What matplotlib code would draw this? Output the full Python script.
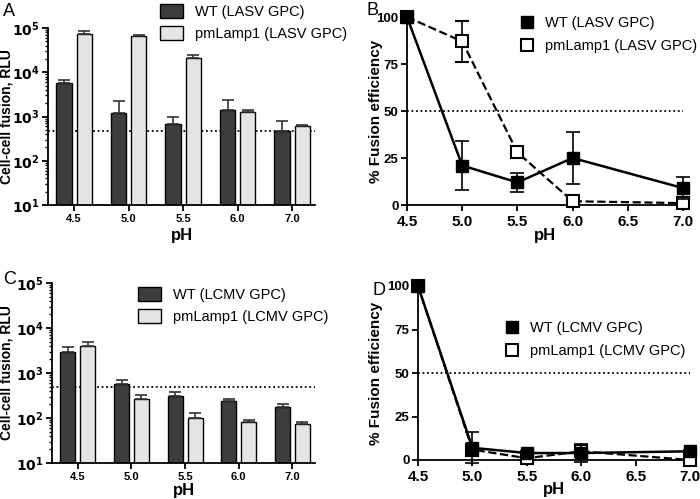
import matplotlib
matplotlib.use("Agg")
import matplotlib.pyplot as plt
import numpy as np
from matplotlib.ticker import LogLocator, NullFormatter
from matplotlib.lines import Line2D
from matplotlib.patches import Patch

plt.rcParams['font.family'] = ['Liberation Sans', 'DejaVu Sans']

ph_labels = ['4.5', '5.0', '5.5', '6.0', '7.0']
ph_num = [4.5, 5.0, 5.5, 6.0, 7.0]

# panel A: LASV GPC, RLU
lasv_wt = [5700, 1200, 670, 1400, 470]
lasv_wt_err = [900, 1000, 330, 1000, 310]
lasv_pm = [75000, 65000, 21000, 1250, 620]
lasv_pm_err = [9000, 5000, 4000, 150, 30]

# panel B: LASV % fusion efficiency
lasv_wt_pct = [100, 21, 12, 25, 9]
lasv_wt_pct_err = [0, 13, 5, 14, 6]
lasv_pm_pct = [100, 87, 28, 2, 1]
lasv_pm_pct_err = [0, 11, 3, 1, 1]

# panel C: LCMV GPC, RLU
lcmv_wt = [2950, 570, 310, 240, 175]
lcmv_wt_err = [850, 120, 70, 25, 30]
lcmv_pm = [4000, 265, 100, 82, 72]
lcmv_pm_err = [1000, 55, 30, 10, 10]

# panel D: LCMV % fusion efficiency
lcmv_wt_pct = [100, 7, 4, 4, 5]
lcmv_wt_pct_err = [0, 9, 1, 5, 1]
lcmv_pm_pct = [100, 6, 1, 5, 0]
lcmv_pm_pct_err = [0, 2, 1, 2, 0]

cutoff_rlu = 480

fig = plt.figure(figsize=(7.0, 4.99), dpi=100)


def style(ax):
    for s in ['top', 'right']:
        ax.spines[s].set_visible(False)
    for s in ['left', 'bottom']:
        ax.spines[s].set_linewidth(1.3)
    ax.tick_params(width=1.3, length=4)


def bar_panel(rect, wt, wt_err, pm, pm_err, names, leg_pos, letter, letter_pos, ylab_x, xpad):
    ax = fig.add_axes(rect)
    x = np.arange(len(ph_labels))
    ekw = dict(capsize=4, elinewidth=1.2, capthick=1.2, ecolor='#333333')
    ax.bar(x - 0.185, wt, width=0.28, color='#3d3d3d', edgecolor='black', linewidth=1.0,
           yerr=[[0] * len(wt), wt_err], error_kw=ekw)
    ax.bar(x + 0.185, pm, width=0.28, color='#e4e4e4', edgecolor='black', linewidth=1.0,
           yerr=[[0] * len(pm), pm_err], error_kw=ekw)
    ax.axhline(cutoff_rlu, color='black', linestyle=(0, (1, 1.5)), linewidth=1.3, zorder=0)
    ax.set_yscale('log')
    ax.set_ylim(10, 1e5)
    ax.set_xlim(-0.48, 4.42)
    ax.set_xticks(x)
    ax.set_xticklabels(ph_labels, fontsize=8, fontweight='bold')
    ax.set_yticks([1e1, 1e2, 1e3, 1e4, 1e5])
    ax.set_yticklabels([r'$\mathbf{10^{%d}}$' % i for i in range(1, 6)], fontsize=10)
    ax.yaxis.set_minor_locator(LogLocator(base=10, subs=np.arange(2, 10)))
    ax.yaxis.set_minor_formatter(NullFormatter())
    style(ax)
    ax.tick_params(axis='y', which='major', pad=2)
    ax.tick_params(axis='y', which='minor', length=2.5, width=1.0)
    ax.tick_params(axis='x', pad=2.5)
    ax.set_ylabel('Cell-cell fusion, RLU', fontsize=10, fontweight='bold')
    ax.yaxis.set_label_coords(ylab_x, 0.5)
    ax.set_xlabel('pH', fontsize=12, fontweight='bold', labelpad=xpad)
    hs = [Patch(facecolor='#3d3d3d', edgecolor='black', linewidth=1.0),
          Patch(facecolor='#e4e4e4', edgecolor='black', linewidth=1.0)]
    fig.legend(hs, names, loc='upper left', bbox_to_anchor=leg_pos, frameon=False, fontsize=10.5,
               handlelength=1.6, handleheight=1.1, labelspacing=0.5, handletextpad=0.8,
               borderaxespad=0, borderpad=0)
    fig.text(letter_pos[0], letter_pos[1], letter, fontsize=13)
    return ax


def line_panel(rect, wt, wt_err, pm, pm_err, names, leg_pos, letter, letter_pos, ylab_x, xpad):
    ax = fig.add_axes(rect)
    ax.axhline(50, color='black', linestyle=(0, (1, 1.5)), linewidth=1.3, zorder=0)
    ax.errorbar(ph_num, pm, yerr=pm_err, color='black', linestyle='--', linewidth=1.6,
                marker='s', markersize=8.5, markerfacecolor='white', markeredgecolor='black',
                markeredgewidth=1.5, capsize=5, elinewidth=1.2, capthick=1.2, clip_on=False,
                zorder=3)
    ax.errorbar(ph_num, wt, yerr=wt_err, color='black', linestyle='-', linewidth=1.8,
                marker='s', markersize=8.5, markerfacecolor='black', markeredgecolor='black',
                capsize=5, elinewidth=1.2, capthick=1.2, clip_on=False, zorder=4)
    ax.set_xlim(4.5, 7.0)
    ax.set_ylim(0, 100)
    ax.set_xticks([4.5, 5.0, 5.5, 6.0, 6.5, 7.0])
    ax.set_xticklabels(['4.5', '5.0', '5.5', '6.0', '6.5', '7.0'], fontsize=11, fontweight='bold')
    ax.set_yticks([0, 25, 50, 75, 100])
    ax.set_yticklabels(['0', '25', '50', '75', '100'], fontsize=9.5, fontweight='bold')
    style(ax)
    ax.tick_params(axis='y', pad=2)
    ax.set_ylabel('% Fusion efficiency', fontsize=11, fontweight='bold')
    ax.yaxis.set_label_coords(ylab_x, 0.5)
    ax.set_xlabel('pH', fontsize=12, fontweight='bold', labelpad=xpad)
    hs = [Line2D([], [], marker='s', color='black', linestyle='none', markersize=8),
          Line2D([], [], marker='s', markerfacecolor='white', markeredgecolor='black',
                 markeredgewidth=1.5, linestyle='none', markersize=8)]
    fig.legend(hs, names, loc='upper left', bbox_to_anchor=leg_pos, frameon=False, fontsize=10.5,
               handlelength=1.0, labelspacing=0.6, handletextpad=0.7,
               borderaxespad=0, borderpad=0)
    fig.text(letter_pos[0], letter_pos[1], letter, fontsize=13)
    return ax


bar_panel([48 / 700, 1 - 205 / 499, 267 / 700, 177 / 499], lasv_wt, lasv_wt_err, lasv_pm, lasv_pm_err,
          ['WT (LASV GPC)', 'pmLamp1 (LASV GPC)'], (160 / 700, 1 - 4 / 499), 'A', (3 / 700, 1 - 16 / 499),
          -0.13, 3)
line_panel([407 / 700, 1 - 205 / 499, 276 / 700, 188 / 499], lasv_wt_pct, lasv_wt_pct_err,
           lasv_pm_pct, lasv_pm_pct_err,
           ['WT (LASV GPC)', 'pmLamp1 (LASV GPC)'], (520 / 700, 1 - 16 / 499), 'B', (367 / 700, 1 - 15 / 499),
           -0.087, -1)
bar_panel([52 / 700, 1 - 463 / 499, 263 / 700, 180 / 499], lcmv_wt, lcmv_wt_err, lcmv_pm, lcmv_pm_err,
          ['WT (LCMV GPC)', 'pmLamp1 (LCMV GPC)'], (138 / 700, 1 - 287 / 499), 'C', (3 / 700, 1 - 284 / 499),
          -0.145, 1)
line_panel([418 / 700, 1 - 460 / 499, 272 / 700, 174 / 499], lcmv_wt_pct, lcmv_wt_pct_err,
           lcmv_pm_pct, lcmv_pm_pct_err,
           ['WT (LCMV GPC)', 'pmLamp1 (LCMV GPC)'], (505 / 700, 1 - 321 / 499), 'D', (372 / 700, 1 - 295 / 499),
           -0.129, -2)

fig.savefig('out.png', dpi=100)
